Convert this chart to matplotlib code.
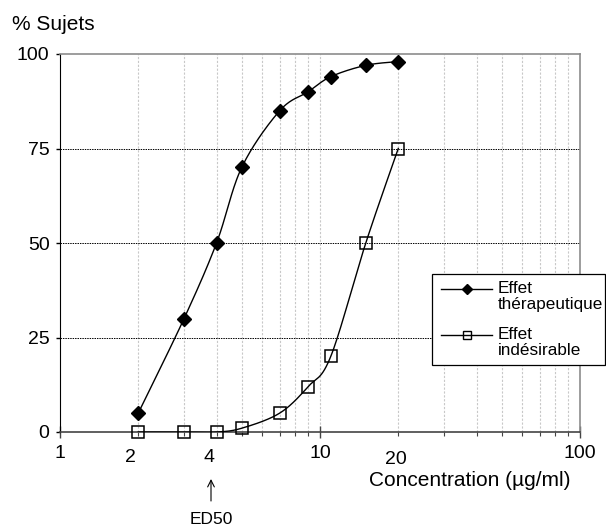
import numpy as np
import matplotlib
matplotlib.use("Agg")
import matplotlib.pyplot as plt
from matplotlib.lines import Line2D
from matplotlib.patches import Rectangle

plt.rcParams['font.family'] = ['Liberation Sans', 'DejaVu Sans']

# data
conc = [2, 3, 4, 5, 7, 9, 11, 15, 20]
effet_therapeutique = [5, 30, 50, 70, 85, 90, 94, 97, 98]
effet_indesirable = [0, 0, 0, 1, 5, 12, 20, 50, 75]
y_ticks = [0, 25, 50, 75, 100]
x_major = [1, 10, 100]
extra_x_labels = [2, 4, 20]

W, H = 606, 528
TICK_FS = 14
TITLE_FS = 15
LEG_FS = 12.3


def fx(px):
    return px / W


def fy(py):
    return 1 - py / H


def smooth(xs, ys, n=30):
    # excel-like smoothed line (catmull-rom), in log-x / linear-y display space
    u = np.log10(xs) * 260.0
    v = np.asarray(ys, float) * 3.78
    pts = np.column_stack([u, v])
    pts = np.vstack([pts[0], pts, pts[-1]])
    out = []
    t = np.linspace(0, 1, n)[:, None]
    for i in range(1, len(pts) - 2):
        p0, p1, p2, p3 = pts[i - 1], pts[i], pts[i + 1], pts[i + 2]
        c1 = p1 + (p2 - p0) / 6
        c2 = p2 - (p3 - p1) / 6
        seg = ((1 - t) ** 3) * p1 + 3 * ((1 - t) ** 2) * t * c1 + 3 * (1 - t) * t ** 2 * c2 + t ** 3 * p2
        out.append(seg if i == 1 else seg[1:])
    out = np.vstack(out)
    return 10 ** (out[:, 0] / 260.0), out[:, 1] / 3.78


fig = plt.figure(figsize=(W / 100, H / 100), dpi=100)
ax = fig.add_axes([fx(60), fy(432), fx(520), 378 / H])

ax.set_xscale('log')
ax.set_xlim(1, 100)
ax.set_ylim(0, 100)

# grid
minor = [k * d for d in (1, 10) for k in range(2, 10)]
for xv in minor + [10]:
    ax.axvline(xv, color='#c8c8c8', lw=0.8, ls=(0, (2, 1.5)), zorder=0)
for yv in [25, 50, 75]:
    ax.axhline(yv, color='black', lw=0.7, ls=(0, (1.5, 1)), zorder=1)

sx, sy = smooth(conc, effet_therapeutique)
ax.plot(sx, sy, color='black', lw=1, zorder=3)
ax.plot(conc, effet_therapeutique, ls='none', marker='D', ms=7.5,
        mfc='black', mec='black', zorder=4)

sx, sy = smooth(conc, effet_indesirable)
ax.plot(sx, sy, color='black', lw=1, zorder=3)
ax.plot(conc, effet_indesirable, ls='none', marker='s', ms=8.2,
        mfc='none', mec='black', mew=1.1, zorder=4, clip_on=False)

# axes styling
ax.spines['left'].set_color('black')
ax.spines['bottom'].set_color('#444444')
ax.spines['bottom'].set_linewidth(1.2)
for s in ('top', 'right'):
    ax.spines[s].set_color('#8c8c8c')
    ax.spines[s].set_linewidth(1.2)

ax.set_yticks(y_ticks)
ax.tick_params(axis='y', direction='out', length=3, width=1, pad=4.5, labelsize=TICK_FS)
ax.set_xticks(x_major)
ax.set_xticklabels([str(v) for v in x_major])
ax.set_xticks(minor, minor=True)
ax.xaxis.set_minor_formatter(plt.NullFormatter())
ax.tick_params(axis='x', which='major', direction='inout', length=8, width=1,
               color='#444444', pad=5, labelsize=TICK_FS)
ax.tick_params(axis='x', which='minor', direction='out', length=3, width=0.8,
               color='#444444')

# labels placed by hand like the original
pos = {2: (130, 458), 4: (209, 458), 20: (396, 459)}
for v in extra_x_labels:
    px, py = pos[v]
    fig.text(fx(px), fy(py), str(v), ha='center', va='center', fontsize=TICK_FS)

fig.text(fx(12), fy(24), '% Sujets', ha='left', va='center', fontsize=TITLE_FS)
fig.text(fx(470), fy(481), 'Concentration (µg/ml)', ha='center', va='center', fontsize=TITLE_FS)
fig.text(fx(211), fy(519), 'ED50', ha='center', va='center', fontsize=12.5)
ax.annotate('', xy=(fx(211), fy(479)), xycoords='figure fraction',
            xytext=(fx(211), fy(501)), textcoords='figure fraction',
            arrowprops=dict(arrowstyle='->', lw=0.8, color='black',
                            mutation_scale=12, shrinkA=0, shrinkB=0),
            annotation_clip=False)

# legend drawn by hand (handle aligned with first text line)
fig.patches.append(Rectangle((fx(432), fy(365)), fx(605 - 432), (365 - 274) / H,
                             transform=fig.transFigure, facecolor='white',
                             edgecolor='black', lw=0.9, zorder=5))
for yline, mk, ms, fc, lab in [(289, 'D', 5.5, 'black', 'Effet\nthérapeutique'),
                               (335, 's', 5.5, 'none', 'Effet\nindésirable')]:
    fig.lines.append(Line2D([fx(441), fx(492)], [fy(yline), fy(yline)],
                            transform=fig.transFigure, color='black', lw=1, zorder=6))
    fig.lines.append(Line2D([fx(466.5)], [fy(yline)], transform=fig.transFigure,
                            ls='none', marker=mk, ms=ms, mfc=fc, mec='black',
                            mew=1, zorder=7))
    fig.text(fx(498), fy(yline - 8), lab, ha='left', va='top', fontsize=LEG_FS,
             linespacing=1.12, zorder=7)

fig.savefig('out.png', dpi=100)
